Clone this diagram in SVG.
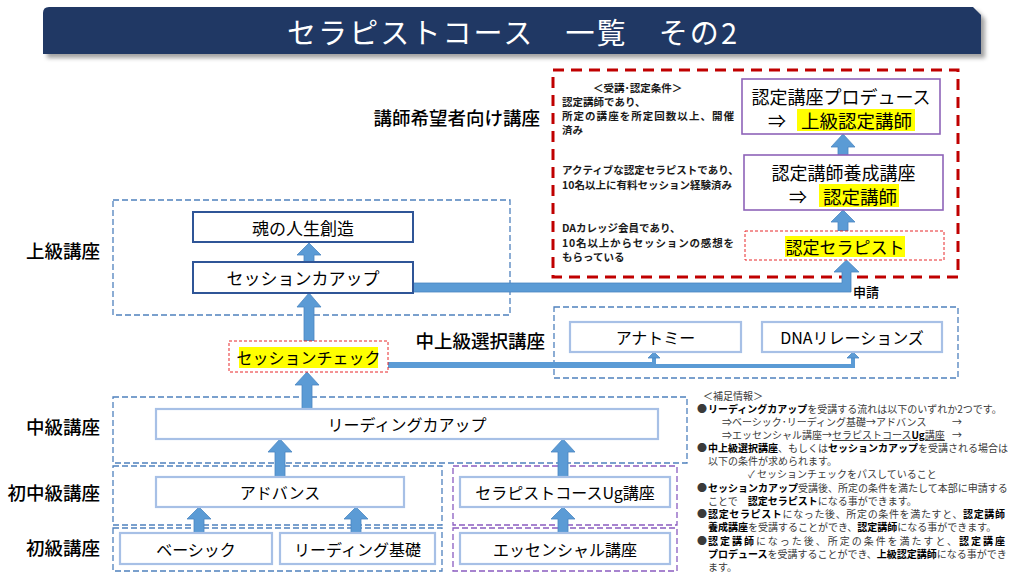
<svg xmlns="http://www.w3.org/2000/svg" width="1024" height="575" viewBox="0 0 1024 575">
<defs>
<filter id="blur" x="-5%" y="-20%" width="110%" height="140%"><feGaussianBlur stdDeviation="2"/></filter>
</defs>
<style>
text{font-family:"Noto Sans CJK JP","Noto Sans",sans-serif;fill:#000}
.lbl{font-size:18.5px;font-weight:500;text-anchor:end;dominant-baseline:central}
.bt{font-size:16px;text-anchor:middle;dominant-baseline:central}
.bt2{font-size:18px;text-anchor:middle;dominant-baseline:central}
.grp{fill:none;stroke:#4F81BD;stroke-width:1.3;stroke-dasharray:6 3}
.grpP{fill:none;stroke:#8A5CC0;stroke-width:1.3;stroke-dasharray:6 3}
.dark{fill:#fff;stroke:#2F5597;stroke-width:2}
.light{fill:#fff;stroke:#A7C0E6;stroke-width:2.2}
.purp{fill:#fff;stroke:#8E63B8;stroke-width:1.6}
.rdot{fill:#fff;stroke:#E8282B;stroke-width:1;stroke-dasharray:3 2}
.hl{fill:#FFFF00}
.arr{fill:#5B9BD5;stroke:#4A86C2;stroke-width:0.8}
.cond{font-size:10.5px;font-weight:bold;fill:#1a1a1a}
.note{font-size:10px;fill:#3a3a3a}
.b{font-weight:bold;fill:#000}
</style>

<g id="title">
<path d="M53,11 H977 L985,19 V58 H47 V17 Q47,11 53,11 Z" fill="#555" opacity="0.55" filter="url(#blur)"/>
<path d="M49,7 H973 L981,15 V54 H43 V13 Q43,7 49,7 Z" fill="#203864"/>
<text x="512" y="31" font-size="29" style="fill:#fff" text-anchor="middle" dominant-baseline="central" textLength="450" lengthAdjust="spacing">セラピストコース　一覧　その2</text>
</g>

<g id="labels">
<text class="lbl" x="540" y="117">講師希望者向け講座</text>
<text class="lbl" x="100" y="250">上級講座</text>
<text class="lbl" x="545" y="340">中上級選択講座</text>
<text class="lbl" x="100" y="426">中級講座</text>
<text class="lbl" x="100" y="492">初中級講座</text>
<text class="lbl" x="100" y="547">初級講座</text>
</g>

<g id="groups">
<rect class="grp" x="113" y="200" width="397" height="115"/>
<rect class="grp" x="554" y="307" width="404" height="71"/>
<rect class="grp" x="113" y="397" width="574" height="66"/>
<rect class="grp" x="113" y="466" width="329" height="59"/>
<rect class="grp" x="113" y="528" width="329" height="43"/>
<rect class="grpP" x="453" y="466" width="224" height="59"/>
<rect class="grpP" x="453" y="528" width="224" height="43"/>
<rect x="553" y="70" width="405" height="207" fill="none" stroke="#C00000" stroke-width="3" stroke-dasharray="11 7"/>
</g>

<g id="connectors">
<polygon class="arr" points="309,243 321,255 314,255 314,262 304,262 304,255 297,255"/>
<polygon class="arr" points="309,293 321,307 314,307 314,341 304,341 304,307 297,307"/>
<polygon class="arr" points="307,372 319,385 312,385 312,409 302,409 302,385 295,385"/>
<polygon class="arr" points="280,439 292,452 285,452 285,477 275,477 275,452 268,452"/>
<polygon class="arr" points="563,439 575,452 568,452 568,477 558,477 558,452 551,452"/>
<polygon class="arr" points="199,507 211,519 204,519 204,533 194,533 194,519 187,519"/>
<polygon class="arr" points="356,507 368,519 361,519 361,533 351,533 351,519 344,519"/>
<polygon class="arr" points="563,507 575,519 568,519 568,533 558,533 558,519 551,519"/>
<polygon class="arr" points="843,134 855,147 848,147 848,155 838,155 838,147 831,147"/>
<polygon class="arr" points="843,210 855,222 848,222 848,231 838,231 838,222 831,222"/>
<polygon class="arr" points="413,283 842,283 842,272 834,272 846.5,260 859,272 851,272 851,292 413,292"/>
<path d="M388,366 H853 V357" fill="none" stroke="#5B9BD5" stroke-width="4"/>
<path d="M388,364 H654 V357" fill="none" stroke="#5B9BD5" stroke-width="4"/>
<polygon class="arr" points="654,352 660,358 648,358"/>
<polygon class="arr" points="853,352 859,358 847,358"/>
<text x="853" y="291" font-size="13" font-weight="500" dominant-baseline="central">申請</text>
</g>

<g id="n-tamashii">
<rect class="dark" x="193" y="212" width="220" height="30"/>
<text class="bt" x="303" y="227" style="font-size:17px">魂の人生創造</text>
</g>
<g id="n-session">
<rect class="dark" x="193" y="262" width="220" height="31"/>
<text class="bt" x="303" y="277.5" style="font-size:17px">セッションカアップ</text>
</g>
<g id="n-check">
<rect class="rdot" x="229" y="341" width="159" height="31"/>
<rect class="hl" x="239" y="347" width="139" height="21"/>
<text class="bt" x="308.5" y="357">セッションチェック</text>
</g>
<g id="n-anatomy">
<rect class="light" x="570" y="322" width="171" height="30"/>
<text class="bt" x="655.5" y="337">アナトミー</text>
</g>
<g id="n-dna">
<rect class="light" x="762" y="322" width="180" height="30"/>
<text class="bt" x="852" y="337">DNAリレーションズ</text>
</g>
<g id="n-reading">
<rect class="light" x="156" y="409" width="502" height="30"/>
<text class="bt" x="407" y="424">リーディングカアップ</text>
</g>
<g id="n-advance">
<rect class="light" x="156" y="477" width="248" height="30"/>
<text class="bt" x="280" y="492">アドバンス</text>
</g>
<g id="n-ug">
<rect class="light" x="460" y="477" width="210" height="30"/>
<text class="bt" x="565" y="492">セラピストコースUg講座</text>
</g>
<g id="n-basic">
<rect class="light" x="120" y="533" width="152" height="31"/>
<text class="bt" x="196" y="548.5">ベーシック</text>
</g>
<g id="n-readbasic">
<rect class="light" x="280" y="533" width="155" height="31"/>
<text class="bt" x="357.5" y="548.5">リーディング基礎</text>
</g>
<g id="n-essential">
<rect class="light" x="460" y="533" width="210" height="31"/>
<text class="bt" x="565" y="548.5">エッセンシャル講座</text>
</g>

<g id="n-produce">
<rect class="purp" x="742" y="79" width="198" height="55"/>
<text class="bt2" x="841" y="96">認定講座プロデュース</text>
<rect class="hl" x="797" y="109" width="118" height="22"/>
<text x="768" y="120" font-size="18" dominant-baseline="central">⇒</text>
<text x="801" y="120" font-size="18.5" dominant-baseline="central">上級認定講師</text>
</g>
<g id="n-training">
<rect class="purp" x="744" y="155" width="199" height="55"/>
<text class="bt2" x="843.5" y="172">認定講師養成講座</text>
<rect class="hl" x="819" y="184" width="80" height="23"/>
<text x="789" y="195.5" font-size="18" dominant-baseline="central">⇒</text>
<text x="823" y="195.5" font-size="18.5" dominant-baseline="central">認定講師</text>
</g>
<g id="n-therapist">
<rect class="rdot" x="745" y="231" width="199" height="29"/>
<rect class="hl" x="785" y="236" width="120" height="21"/>
<text class="bt" x="845" y="246" style="font-size:17px">認定セラピスト</text>
</g>

<g id="conditions">
<text class="cond" x="593" y="92">＜受講･認定条件＞</text>
<text class="cond" x="562" y="106">認定講師であり、</text>
<text class="cond" x="562" y="120" textLength="172" lengthAdjust="spacing">所定の講座を所定回数以上、開催</text>
<text class="cond" x="562" y="134">済み</text>
<text class="cond" x="562" y="174">アクティブな認定セラピストであり、</text>
<text class="cond" x="562" y="189">10名以上に有料セッション経験済み</text>
<text class="cond" x="562" y="232">DAカレッジ会員であり、</text>
<text class="cond" x="562" y="247" textLength="172" lengthAdjust="spacing">10名以上からセッションの感想を</text>
<text class="cond" x="562" y="261">もらっている</text>
</g>

<g id="notes">
<text class="note" x="703" y="400">＜補足情報＞</text>
<text class="note" x="697" y="413" font-size="8">●</text>
<text class="note" x="708" y="413"><tspan class="b">リーディングカアップ</tspan>を受講する流れは以下のいずれか2つです。</text>
<text class="note" x="722" y="426">⇒ベーシック･リーディング基礎→アドバンス</text>
<text class="note" x="952" y="426">→</text>
<text class="note" x="722" y="439">⇒エッセンシャル講座→<tspan text-decoration="underline">セラピストコース<tspan class="b">Ug</tspan>講座</tspan></text>
<text class="note" x="952" y="439">→</text>
<text class="note" x="697" y="452" font-size="8">●</text>
<text class="note" x="708" y="452"><tspan class="b">中上級選択講座</tspan>、もしくは<tspan class="b">セッションカアップ</tspan>を受講される場合は</text>
<text class="note" x="708" y="465">以下の条件が求められます。</text>
<text class="note" x="748" y="478">✓ セッションチェックをパスしていること</text>
<text class="note" x="697" y="491.5" font-size="8">●</text>
<text class="note" x="708" y="491.5"><tspan class="b">セッションカアップ</tspan>受講後、所定の条件を満たして本部に申請する</text>
<text class="note" x="708" y="504.5">ことで　<tspan class="b">認定セラピスト</tspan>になる事ができます。</text>
<text class="note" x="697" y="518" font-size="8">●</text>
<text class="note" x="708" y="518" textLength="297" lengthAdjust="spacing"><tspan class="b">認定セラピスト</tspan>になった後、所定の条件を満たすと、<tspan class="b">認定講師</tspan></text>
<text class="note" x="708" y="531"><tspan class="b">養成講座</tspan>を受講することができ、<tspan class="b">認定講師</tspan>になる事ができます。</text>
<text class="note" x="697" y="544.5" font-size="8">●</text>
<text class="note" x="708" y="544.5" textLength="297" lengthAdjust="spacing"><tspan class="b">認定講師</tspan>になった後、所定の条件を満たすと、<tspan class="b">認定講座</tspan></text>
<text class="note" x="708" y="557.5"><tspan class="b">プロデュース</tspan>を受講することができ、<tspan class="b">上級認定講師</tspan>になる事ができ</text>
<text class="note" x="708" y="570.5">ます。</text>
</g>
</svg>
